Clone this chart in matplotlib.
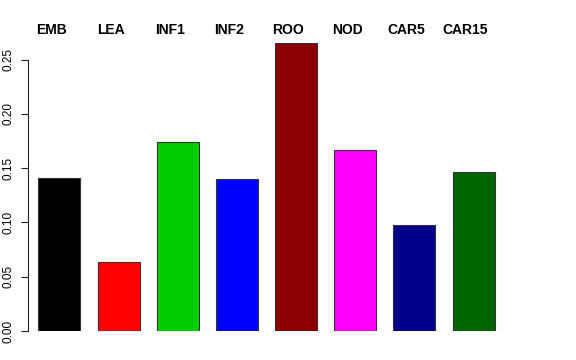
import matplotlib
matplotlib.use("Agg")
import matplotlib.pyplot as plt
import numpy as np

tissues = ["EMB", "LEA", "INF1", "INF2", "ROO", "NOD", "CAR5", "CAR15"]
values = [0.141, 0.0635, 0.174, 0.140, 0.265, 0.1665, 0.098, 0.146]
bar_colors = ["#000000", "#FF0000", "#00CD00", "#0000FF",
              "#8B0000", "#FF00FF", "#00008B", "#006400"]
yticks = [0.00, 0.05, 0.10, 0.15, 0.20, 0.25]

plt.rcParams["font.family"] = ["Liberation Sans", "DejaVu Sans"]

W, H = 576, 360
fig = plt.figure(figsize=(W / 100, H / 100), dpi=100)

# axes placed in pixel terms to mimic R's plot region
left_px, right_px, top_px, bottom_px = 28, 509, 42.7, 331
ax = fig.add_axes([left_px / W, 1 - bottom_px / H,
                   (right_px - left_px) / W, (bottom_px - top_px) / H])

x = np.arange(len(tissues))
ax.bar(x, values, width=0.71, color=bar_colors, edgecolor="#333333", linewidth=0.8)

ax.set_xlim(-0.532, 7.6)
ax.set_ylim(0, 0.2655)

for s in ["top", "right", "bottom"]:
    ax.spines[s].set_visible(False)
ax.spines["left"].set_bounds(0, 0.25)
ax.spines["left"].set_linewidth(0.8)
ax.spines["left"].set_color("#222222")

ax.set_xticks([])
ax.set_yticks(yticks)
ax.set_yticklabels([f"{v:.2f}" for v in yticks], rotation=90, va="center", fontsize=8.5)
ax.tick_params(axis="y", length=5, width=0.8, pad=5, color="#222222")

for i, name in enumerate(tissues):
    ax.annotate(name, xy=(i, 1), xycoords=("data", "axes fraction"),
                xytext=(-5.8, 6.3), textcoords="offset points",
                ha="center", va="baseline", fontsize=10, fontweight="bold")

fig.savefig("out.png", dpi=100)
